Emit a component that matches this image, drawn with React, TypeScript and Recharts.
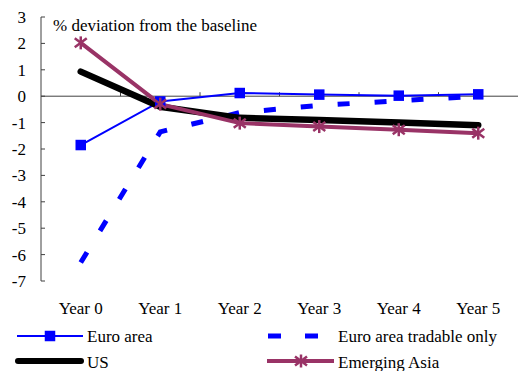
import React from 'react';
import { LineChart, Line, XAxis, YAxis, ReferenceLine, Customized } from 'recharts';

const categories = ['Year 0', 'Year 1', 'Year 2', 'Year 3', 'Year 4', 'Year 5'];
const euroArea = [-1.85, -0.2, 0.12, 0.06, 0.02, 0.07];
const euroTradable = [-6.3, -1.35, -0.62, -0.35, -0.17, 0.0];
const us = [0.93, -0.4, -0.82, -0.9, -1.0, -1.1];
const emergingAsia = [2.02, -0.3, -1.02, -1.15, -1.27, -1.4];
const yTicks = [-7, -6, -5, -4, -3, -2, -1, 0, 1, 2, 3];

const data = categories.map((c, i) => ({
  name: c,
  euro: euroArea[i],
  tradable: euroTradable[i],
  us: us[i],
  asia: emergingAsia[i],
}));

const FONT = '"Liberation Serif", "Times New Roman", serif';
const FS = 17;
const BLUE = '#0000FF';
const PLUM = '#993366';
const AXIS = '#404040';

const SquareDot = (props: any) => {
  const { cx, cy } = props;
  if (cx == null || cy == null) return null;
  return <rect x={cx - 5.25} y={cy - 5.25} width={10.5} height={10.5} fill={BLUE} />;
};

const Star = ({ cx, cy }: { cx: number; cy: number }) => (
  <g stroke={PLUM} strokeWidth={2.5}>
    <line x1={cx} y1={cy - 6.5} x2={cx} y2={cy + 6.5} />
    <line x1={cx - 6} y1={cy - 4.5} x2={cx + 6} y2={cy + 4.5} />
    <line x1={cx - 6} y1={cy + 4.5} x2={cx + 6} y2={cy - 4.5} />
  </g>
);

const StarDot = (props: any) => {
  const { cx, cy } = props;
  if (cx == null || cy == null) return null;
  return <Star cx={cx} cy={cy} />;
};

const YTick = (props: any) => {
  const { x, y, payload } = props;
  const axisX = x + 15;
  return (
    <g>
      <line x1={axisX} y1={y} x2={axisX + 4} y2={y} stroke={AXIS} strokeWidth={1} />
      <text x={x} y={y} dy={6} textAnchor="end" style={{ fontFamily: FONT, fontSize: FS }} fill="#000">
        {payload.value}
      </text>
    </g>
  );
};

const XTick = (props: any) => {
  const { x, y, payload } = props;
  return (
    <text x={x} y={y} dy={6} textAnchor="middle" style={{ fontFamily: FONT, fontSize: FS }} fill="#000">
      {payload.value}
    </text>
  );
};

const ZeroLine = (props: any) => {
  const { x1, y1, x2, y2 } = props;
  const n = categories.length;
  const ticks = [];
  for (let i = 1; i < n; i++) {
    const xx = x1 + ((x2 - x1) * i) / n;
    ticks.push(<line key={i} x1={xx} y1={y1} x2={xx} y2={y1 - 4} stroke={AXIS} strokeWidth={1} />);
  }
  return (
    <g>
      <line x1={x1} y1={y1} x2={x2} y2={y2} stroke={AXIS} strokeWidth={1} />
      {ticks}
    </g>
  );
};

const Overlay = () => (
  <g style={{ fontFamily: FONT, fontSize: FS }} fill="#000">
    <text x={53} y={31}>% deviation from the baseline</text>
    {/* legend row 1 */}
    <line x1={17} y1={336} x2={83} y2={336} stroke={BLUE} strokeWidth={2} />
    <rect x={44.75} y={330.75} width={10.5} height={10.5} fill={BLUE} />
    <text x={87} y={342}>Euro area</text>
    <line x1={268} y1={336} x2={318} y2={336} stroke={BLUE} strokeWidth={5} strokeDasharray="13 24" />
    <text x={338} y={342}>Euro area tradable only</text>
    {/* legend row 2 */}
    <line x1={18} y1={361} x2={81} y2={361} stroke="#000" strokeWidth={6} strokeLinecap="round" />
    <text x={87} y={368}>US</text>
    <line x1={267} y1={361} x2={334} y2={361} stroke={PLUM} strokeWidth={4} />
    <Star cx={301} cy={361} />
    <text x={338} y={368}>Emerging Asia</text>
  </g>
);

export default function App() {
  return (
    <div style={{ position: 'absolute', left: 0, top: 0, width: 518, height: 371, background: '#fff' }}>
      <LineChart width={518} height={371} data={data} margin={{ top: 17, right: 0, bottom: 60, left: 0 }}>
        <XAxis
          dataKey="name"
          scale="band"
          axisLine={false}
          tickLine={false}
          tickSize={0}
          tickMargin={27}
          height={30}
          tick={<XTick />}
          interval={0}
        />
        <YAxis
          type="number"
          domain={[-7, 3]}
          ticks={yTicks}
          interval={0}
          width={41}
          axisLine={{ stroke: AXIS, strokeWidth: 1 }}
          tickLine={false}
          tickSize={0}
          tickMargin={15}
          tick={<YTick />}
        />
        <ReferenceLine y={0} shape={<ZeroLine />} ifOverflow="extendDomain" />
        <Line
          dataKey="tradable"
          stroke={BLUE}
          strokeWidth={5}
          strokeDasharray="12 25"
          dot={false}
          isAnimationActive={false}
        />
        <Line dataKey="euro" stroke={BLUE} strokeWidth={2} dot={<SquareDot />} isAnimationActive={false} />
        <Line
          dataKey="us"
          stroke="#000"
          strokeWidth={6.5}
          strokeLinecap="round"
          dot={false}
          isAnimationActive={false}
        />
        <Line dataKey="asia" stroke={PLUM} strokeWidth={4} dot={<StarDot />} isAnimationActive={false} />
        <Customized component={<Overlay />} />
      </LineChart>
    </div>
  );
}
